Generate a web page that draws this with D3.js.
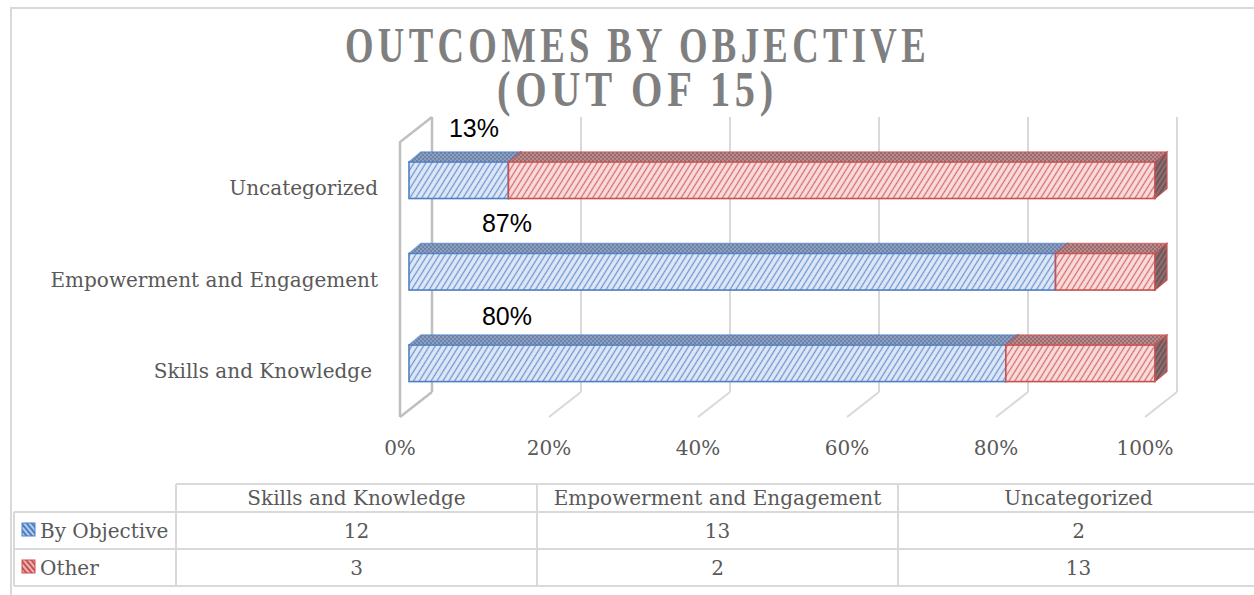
<!DOCTYPE html>
<html>
<head>
<meta charset="utf-8">
<script src="https://cdn.jsdelivr.net/npm/d3@7"></script>
<style>
  body { margin: 0; background: #fff; }
  svg { display: block; }
  text { font-family: "DejaVu Serif", serif; fill: #595959; }
</style>
</head>
<body>
<svg id="chart" width="1254" height="595"></svg>
<script>
// chart data
var categories = ["Skills and Knowledge", "Empowerment and Engagement", "Uncategorized"];
var seriesNames = ["By Objective", "Other"];
var byObjective = [12, 13, 2];
var other = [3, 2, 13];
var axisTicks = [0, 0.2, 0.4, 0.6, 0.8, 1];
var titleLines = ["OUTCOMES BY OBJECTIVE", "(OUT OF 15)"];

var svg = d3.select('#chart');
var defs = svg.append('defs');

var colors = {
    "By Objective": {line: '#4f7fc2', bg: '#dfe8f6', hatch: '#6f96d4', top: '#8c9fbf', topDot: '#6d83a9', end: '#6f7f9c', key: '#4a7ec4'},
    "Other": {line: '#c9504f', bg: '#f8dddd', hatch: '#d96c6c', top: '#b88c8e', topDot: '#9b6a6d', end: '#8d6f72', key: '#c9504f'}
};

// hatch + top patterns
seriesNames.forEach(function (name, i) {
    var c = colors[name];
    var h = defs.append('pattern').attr('id', 'hatch' + i)
        .attr('patternUnits', 'userSpaceOnUse').attr('width', 5).attr('height', 10)
        .attr('patternTransform', 'rotate(32)');
    h.append('rect').attr('width', 5).attr('height', 10).attr('fill', c.bg);
    h.append('line').attr('x1', 2.5).attr('x2', 2.5).attr('y1', 0).attr('y2', 10)
        .attr('stroke', c.hatch).attr('stroke-width', 1.3);

    var t = defs.append('pattern').attr('id', 'top' + i)
        .attr('patternUnits', 'userSpaceOnUse').attr('width', 4).attr('height', 4);
    t.append('rect').attr('width', 4).attr('height', 4).attr('fill', c.top);
    t.append('rect').attr('width', 2).attr('height', 2).attr('fill', c.topDot);
    t.append('rect').attr('x', 2).attr('y', 2).attr('width', 2).attr('height', 2).attr('fill', c.topDot);

    var e = defs.append('pattern').attr('id', 'end' + i)
        .attr('patternUnits', 'userSpaceOnUse').attr('width', 4).attr('height', 8)
        .attr('patternTransform', 'rotate(32)');
    e.append('rect').attr('width', 4).attr('height', 8).attr('fill', c.end);
    e.append('line').attr('x1', 2).attr('x2', 2).attr('y1', 0).attr('y2', 8)
        .attr('stroke', '#5a4446').attr('stroke-width', 1.2);

    var k = defs.append('pattern').attr('id', 'key' + i)
        .attr('patternUnits', 'userSpaceOnUse').attr('width', 4).attr('height', 8)
        .attr('patternTransform', 'rotate(-40)');
    k.append('rect').attr('width', 4).attr('height', 8).attr('fill', c.key);
    k.append('line').attr('x1', 2).attr('x2', 2).attr('y1', 0).attr('y2', 8)
        .attr('stroke', '#ffffff').attr('stroke-width', 1.2);
});

// outer chart border
svg.append('path').attr('d', 'M11,600 V8 H1260')
    .attr('fill', 'none').attr('stroke', '#d9d9d9').attr('stroke-width', 2);

// title - condensed caps with wide tracking, one text element, two lines
var title = svg.append('text')
    .attr('text-anchor', 'middle')
    .style('font-family', '"Liberation Serif", serif')
    .style('font-weight', 'bold')
    .style('font-size', '51px')
    .style('letter-spacing', '6px')
    .style('fill', '#7f7f7f');
titleLines.forEach(function (line, i) {
    title.append('tspan')
        .attr('x', 637.5).attr('y', i === 0 ? 62 : 106)
        .attr('textLength', i === 0 ? 585 : 281)
        .attr('lengthAdjust', 'spacingAndGlyphs')
        .text(line);
});

// 3d frame
var xFront = d3.scaleLinear().domain([0, 1]).range([400, 1145]);
var wallDepth = {dx: 32, dy: -25};
var floorY = 417, wallTop = 142;

var grid = svg.append('g');
axisTicks.forEach(function (t) {
    var fx = xFront(t), bx = fx + wallDepth.dx;
    grid.append('line')
        .attr('x1', bx).attr('x2', bx)
        .attr('y1', wallTop + wallDepth.dy).attr('y2', floorY + wallDepth.dy)
        .attr('stroke', t === 0 ? '#bfbfbf' : '#d9d9d9').attr('stroke-width', t === 0 ? 2.5 : 2);
    grid.append('line')
        .attr('x1', bx).attr('x2', fx)
        .attr('y1', floorY + wallDepth.dy).attr('y2', floorY)
        .attr('stroke', t === 0 ? '#bfbfbf' : '#d9d9d9').attr('stroke-width', t === 0 ? 2.5 : 2);
});
// left wall front edges
grid.append('path')
    .attr('d', 'M' + xFront(0) + ',' + floorY + ' V' + wallTop +
        ' L' + (xFront(0) + wallDepth.dx) + ',' + (wallTop + wallDepth.dy))
    .attr('fill', 'none').attr('stroke', '#bfbfbf').attr('stroke-width', 2.5);

// axis labels
svg.append('g').selectAll('text').data(axisTicks).enter().append('text')
    .attr('x', function (d) { return xFront(d); })
    .attr('y', 455)
    .attr('text-anchor', 'middle')
    .style('font-size', '20px')
    .text(d3.format('.0%'));

// bars
var barX = d3.scaleLinear().domain([0, 1]).range([409, 1155]);
var barDepth = {dx: 12, dy: -10};
var y = d3.scaleBand().domain(categories.slice().reverse()).range([107, 436.5]).padding(0.6);

var rows = categories.map(function (cat, i) {
    var total = byObjective[i] + other[i];
    var a = byObjective[i] / total;
    return {cat: cat, total: total, segs: [
        {name: seriesNames[0], i: 0, x0: 0, x1: a},
        {name: seriesNames[1], i: 1, x0: a, x1: 1}
    ]};
});

var bars = svg.append('g');
rows.forEach(function (row) {
    var top = y(row.cat), bh = y.bandwidth();
    row.segs.forEach(function (s) {
        var c = colors[s.name];
        var xa = barX(s.x0), xb = barX(s.x1);
        var g = bars.append('g');
        g.append('rect')
            .attr('x', xa).attr('y', top).attr('width', xb - xa).attr('height', bh)
            .attr('fill', 'url(#hatch' + s.i + ')')
            .attr('stroke', c.line).attr('stroke-width', 1.6);
        g.append('path')
            .attr('d', 'M' + xa + ',' + top + ' L' + (xa + barDepth.dx) + ',' + (top + barDepth.dy) +
                ' L' + (xb + barDepth.dx) + ',' + (top + barDepth.dy) + ' L' + xb + ',' + top + ' Z')
            .attr('fill', 'url(#top' + s.i + ')')
            .attr('stroke', c.line).attr('stroke-width', 1.2).attr('stroke-opacity', 0.7);
        g.append('path')
            .attr('d', 'M' + xb + ',' + top + ' L' + (xb + barDepth.dx) + ',' + (top + barDepth.dy) +
                ' L' + (xb + barDepth.dx) + ',' + (top + bh + barDepth.dy) + ' L' + xb + ',' + (top + bh) + ' Z')
            .attr('fill', 'url(#end' + s.i + ')')
            .attr('stroke', c.line).attr('stroke-width', 1.2);
    });
});

// category labels (first one sits a little further left in the original)
var catDx = [-6, 0, 0];
svg.append('g').selectAll('text').data(categories).enter().append('text')
    .attr('x', function (d, i) { return 378 + catDx[i]; })
    .attr('y', function (d) { return y(d) + y.bandwidth() / 2 + 15; })
    .attr('text-anchor', 'end')
    .style('font-size', '20px')
    .text(function (d) { return d; });

// data labels (share of By Objective)
var labelDx = [98, 98, 65];
var labelDy = [-20, -21, -25];
svg.append('g').selectAll('text').data(rows).enter().append('text')
    .attr('x', function (d, i) { return barX(0) + labelDx[i]; })
    .attr('y', function (d, i) { return y(d.cat) + labelDy[i]; })
    .attr('text-anchor', 'middle')
    .style('font-family', '"Liberation Sans", Arial, sans-serif')
    .style('font-size', '25px')
    .style('fill', '#000')
    .text(function (d) { return d3.format('.0%')(d.segs[0].x1); });

// data table
var colX = d3.scaleBand().domain(categories).range([176, 1259]);
var rowTop = [484, 512, 549, 586];
var keyLeft = 14;
var table = svg.append('g');
var tl = function (x1, y1, x2, y2) {
    table.append('line').attr('x1', x1).attr('y1', y1).attr('x2', x2).attr('y2', y2)
        .attr('stroke', '#d9d9d9').attr('stroke-width', 2);
};
tl(176, rowTop[0], 1259, rowTop[0]);
tl(keyLeft, rowTop[1], 1259, rowTop[1]);
tl(keyLeft, rowTop[2], 1259, rowTop[2]);
tl(keyLeft, rowTop[3], 1259, rowTop[3]);
tl(keyLeft, rowTop[1], keyLeft, rowTop[3]);
categories.forEach(function (cat) {
    tl(colX(cat), rowTop[0], colX(cat), rowTop[3]);
});

table.selectAll('text.head').data(categories).enter().append('text')
    .attr('class', 'head')
    .attr('x', function (d) { return colX(d) + colX.bandwidth() / 2; })
    .attr('y', 505)
    .attr('text-anchor', 'middle')
    .style('font-size', '20px')
    .text(function (d) { return d; });

[byObjective, other].forEach(function (vals, r) {
    var base = rowTop[r + 1] + 26;
    table.append('rect')
        .attr('x', 22).attr('y', base - 15).attr('width', 13).attr('height', 13)
        .attr('fill', 'url(#key' + r + ')')
        .attr('stroke', colors[seriesNames[r]].line).attr('stroke-width', 1);
    table.append('text')
        .attr('x', 40).attr('y', base)
        .style('font-size', '20px')
        .text(seriesNames[r]);
    vals.forEach(function (v, i) {
        table.append('text')
            .attr('x', colX(categories[i]) + colX.bandwidth() / 2)
            .attr('y', base)
            .attr('text-anchor', 'middle')
            .style('font-size', '20px')
            .text(v);
    });
});
</script>
</body>
</html>
